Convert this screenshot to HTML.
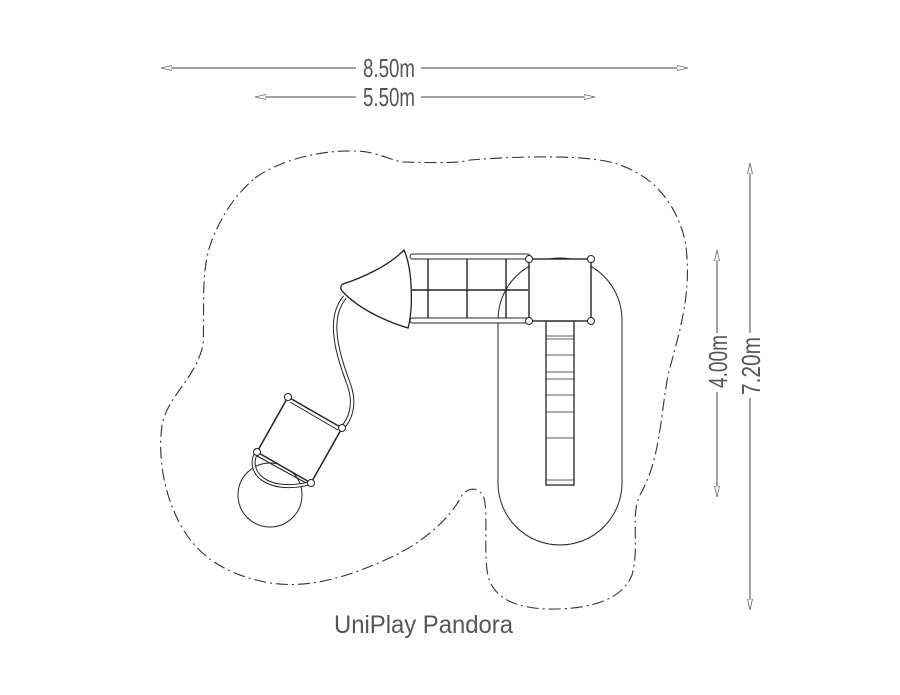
<!DOCTYPE html>
<html><head><meta charset="utf-8"><style>html,body{margin:0;padding:0;background:#fff}svg{display:block}</style></head>
<body>
<svg width="900" height="695" viewBox="0 0 900 695" xmlns="http://www.w3.org/2000/svg" font-family="Liberation Sans, sans-serif">
<defs>
<marker id="a" viewBox="0 0 12 6" refX="11" refY="3" markerWidth="12" markerHeight="6" orient="auto" markerUnits="userSpaceOnUse"><path d="M0,0.5 L11,3 L0,5.5 Z" fill="#fff" stroke="#666" stroke-width="0.8"/></marker>
</defs>
<g stroke="#444" stroke-width="1" fill="none">
<line x1="356" y1="68" x2="161" y2="68" marker-end="url(#a)"/>
<line x1="421" y1="68" x2="688" y2="68" marker-end="url(#a)"/>
<line x1="356" y1="97" x2="255" y2="97" marker-end="url(#a)"/>
<line x1="421" y1="97" x2="595" y2="97" marker-end="url(#a)"/>
<line x1="717" y1="333" x2="717" y2="250" marker-end="url(#a)"/>
<line x1="717" y1="392" x2="717" y2="497" marker-end="url(#a)"/>
<line x1="750" y1="333" x2="750" y2="163" marker-end="url(#a)"/>
<line x1="750" y1="398" x2="750" y2="610" marker-end="url(#a)"/>
</g>
<g fill="#555" font-size="26">
<text x="363" y="77" textLength="52" lengthAdjust="spacingAndGlyphs">8.50m</text>
<text x="363" y="106" textLength="52" lengthAdjust="spacingAndGlyphs">5.50m</text>
<text transform="translate(727,388) rotate(-90)" textLength="53" lengthAdjust="spacingAndGlyphs">4.00m</text>
<text transform="translate(760,395) rotate(-90)" textLength="58" lengthAdjust="spacingAndGlyphs">7.20m</text>
<text x="334" y="633" textLength="179" lengthAdjust="spacingAndGlyphs" font-size="25">UniPlay Pandora</text>
</g>
<path d="M255,178 C280,160 320,150 355,151 C375,151 390,160 402,162 C440,163 460,163 470,160 C520,156 580,155 610,162 C650,172 675,200 685,240 C693,290 680,330 668,375 C660,420 660,460 640,495 C630,515 640,545 632,575 C622,600 590,610 545,609 C510,607 490,595 487,570 C484,545 488,515 484,498 C480,488 470,486 462,495 C450,520 420,545 385,560 C345,578 305,590 265,582 C225,574 195,555 178,520 C163,490 158,455 162,425 C168,395 195,380 203,345 C205,310 200,270 212,240 C222,215 235,195 255,178 Z" fill="none" stroke="#333" stroke-width="1.1" stroke-dasharray="12,4,2,4"/>
<g stroke="#222" fill="none" stroke-width="1">
<path d="M498,320 A62,62 0 0 1 622,320 L622,483 A62,62 0 0 1 498,483 Z"/>
<rect x="546" y="321" width="28" height="164" fill="#fff" stroke-width="1.3"/>
<g stroke-width="0.8">
<line x1="546" y1="336" x2="574" y2="336"/><line x1="546" y1="339" x2="574" y2="339"/>
<line x1="546" y1="355" x2="574" y2="355"/><line x1="546" y1="372" x2="574" y2="372"/>
<line x1="546" y1="379" x2="574" y2="379"/><line x1="546" y1="395" x2="574" y2="395"/>
<line x1="546" y1="412" x2="574" y2="412"/><line x1="546" y1="438" x2="574" y2="438"/>
<line x1="546" y1="480" x2="574" y2="480"/>
</g>
<rect x="410" y="254" width="120" height="5" rx="2.5" fill="#fff"/>
<rect x="410" y="318" width="120" height="5" rx="2.5" fill="#fff"/>
<g stroke-width="1.4">
<line x1="428" y1="259" x2="428" y2="318"/><line x1="467" y1="259" x2="467" y2="318"/><line x1="506" y1="259" x2="506" y2="318"/>
<line x1="412" y1="290" x2="528" y2="290"/>
</g>
<rect x="529" y="259" width="62" height="62" fill="#fff" stroke-width="1.4"/>
<path d="M343,284 C362,278 390,265 404,250 C413,270 413,310 408,328 C388,322 360,310 343,292 C340,289 340,286 343,284 Z" fill="#fff" stroke-width="1.3"/>
<path d="M345,297 C325,320 340,360 349,385 C356,405 350,420 342,428" stroke-width="4.5"/>
<path d="M345,297 C325,320 340,360 349,385 C356,405 350,420 342,428" stroke="#fff" stroke-width="2.5"/>
<circle cx="270" cy="495" r="32"/>
<path d="M257,452 C245,470 265,495 311,483" stroke-width="4"/>
<path d="M257,452 C245,470 265,495 311,483" stroke="#fff" stroke-width="2"/>
<path d="M288,397 L342,428 L311,483 L257,452 Z" fill="#fff" stroke-width="1.5"/>
<path d="M290,402 L338,430 M257,456 L306,483" stroke-width="1"/>
</g>
<g fill="#fff" stroke="#222" stroke-width="1">
<circle cx="529" cy="259" r="3.5"/><circle cx="591" cy="259" r="3.5"/><circle cx="529" cy="321" r="3.5"/><circle cx="591" cy="321" r="3.5"/>
<circle cx="288" cy="397" r="3.5"/><circle cx="342" cy="428" r="3.5"/><circle cx="311" cy="483" r="3.5"/><circle cx="257" cy="452" r="3.5"/>
</g>
</svg>
</body></html>
